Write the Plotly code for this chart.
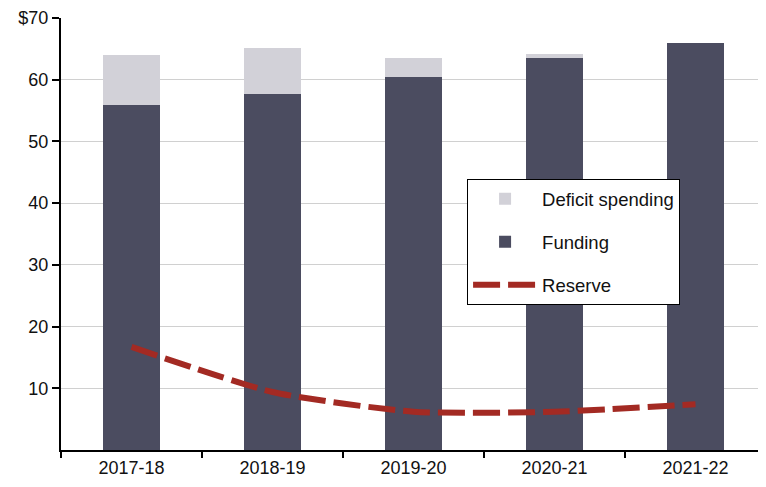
import plotly.graph_objects as go

categories = ["2017-18", "2018-19", "2019-20", "2020-21", "2021-22"]
funding = [55.9, 57.7, 60.4, 63.5, 66.0]
deficit = [8.1, 7.5, 3.2, 0.7, 0.0]
reserve = [16.7, 9.4, 6.2, 6.2, 7.4]
ytick_vals = [10, 20, 30, 40, 50, 60, 70]
ytick_text = ["10", "20", "30", "40", "50", "60", "$70"]

FONT = "Liberation Sans, Arial, Helvetica, sans-serif"

fig = go.Figure()
fig.add_trace(go.Bar(x=categories, y=funding, name="Funding",
                     marker=dict(color="#4b4c60", line=dict(width=0)),
                     width=0.4, legendrank=2, legendgroup="f"))
fig.add_trace(go.Bar(x=categories, y=deficit, name="Deficit spending",
                     marker=dict(color="#d2d1d8", line=dict(width=0)),
                     width=0.4, legendrank=1, legendgroup="d"))
fig.add_trace(go.Scatter(x=categories, y=reserve, name="Reserve", mode="lines",
                         line=dict(color="#a32a23", width=6, dash="27px,8px", shape="spline", smoothing=0.6),
                         legendrank=3, legendgroup="r"))

# page body has an 8px default margin; compensate so the plot sits where the reference has it
fig.update_layout(
    width=758, height=479,
    margin=dict(l=53, r=0, t=10, b=37),
    barmode="stack",
    plot_bgcolor="white", paper_bgcolor="white",
    font=dict(family=FONT, size=18, color="#111111"),
    showlegend=True,
    legend=dict(x=0.576, y=0.627, xanchor="left", yanchor="top",
                bordercolor="#000000", borderwidth=1, bgcolor="white",
                font=dict(size=18.5), traceorder="grouped", tracegroupgap=16,
                itemwidth=64),
    xaxis=dict(range=[-0.5, 4.5], showline=True, linecolor="#000000", linewidth=2,
               ticks="outside", tickson="boundaries", ticklen=6, tickwidth=2,
               tickcolor="#000000", showgrid=False, tickfont=dict(size=18)),
    yaxis=dict(range=[0, 70], showline=True, linecolor="#000000", linewidth=2,
               ticks="outside", ticklen=7, tickwidth=2, tickcolor="#000000",
               tickvals=ytick_vals, ticktext=ytick_text,
               showgrid=True, gridcolor="#d0d0d0", gridwidth=1,
               zeroline=False, tickfont=dict(size=18)),
)

fig.write_html("out.html")
